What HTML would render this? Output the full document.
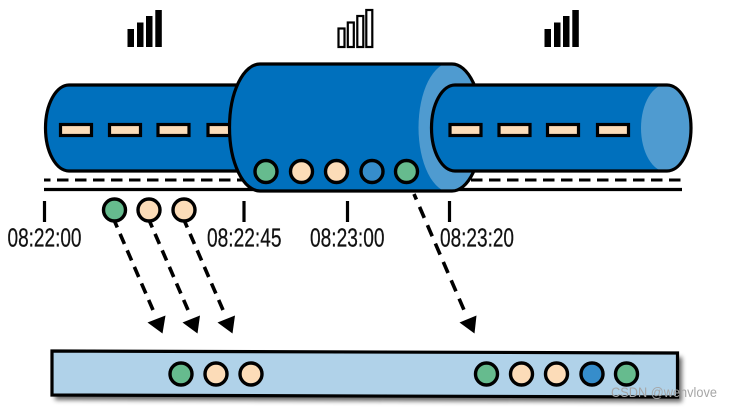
<!DOCTYPE html>
<html><head><meta charset="utf-8"><style>
html,body{margin:0;padding:0;background:#fff;width:732px;height:407px;overflow:hidden}
svg{display:block}
text{font-family:"Liberation Sans Narrow","Liberation Sans",sans-serif;fill:#111}
</style></head><body>
<svg width="732" height="407" viewBox="0 0 732 407" xmlns="http://www.w3.org/2000/svg">
<defs>
<filter id="sh" x="-5%" y="-30%" width="110%" height="170%"><feGaussianBlur stdDeviation="2.5"/></filter>
<clipPath id="midclip"><path d="M260 64H452A30 63.500 0 0 1 452 191H260A30.500 63.500 0 0 1 260 64Z"/></clipPath>
<clipPath id="rclip"><path d="M455 85H667A24 43 0 0 1 667 171H455A23.500 43 0 0 1 455 85Z"/></clipPath>
</defs>

<!-- signal bars -->
<g fill="#000">
<rect x="127.500" y="29" width="6.500" height="18"/><rect x="137" y="22.500" width="6.500" height="24.500"/><rect x="146" y="16" width="6.500" height="31"/><rect x="155.300" y="10" width="6.500" height="37"/>
<rect x="544.500" y="29" width="6.500" height="18"/><rect x="554" y="22.500" width="6.500" height="24.500"/><rect x="563" y="16" width="6.500" height="31"/><rect x="572.300" y="10" width="6.500" height="37"/>
</g>
<g fill="#fff" stroke="#000" stroke-width="2.200">
<rect x="338.500" y="28.500" width="6" height="18.500"/><rect x="347.800" y="22.500" width="6" height="24.500"/><rect x="357.300" y="16" width="6" height="31"/><rect x="366.300" y="10" width="6" height="37"/>
</g>

<!-- ground lines -->
<line x1="44" y1="180" x2="682" y2="180" stroke="#000" stroke-width="3" stroke-dasharray="11.500 6.500" stroke-dashoffset="5"/>
<line x1="44" y1="189.500" x2="682" y2="189.500" stroke="#000" stroke-width="3.200"/>

<!-- left pipe -->
<path d="M69 85H260V171H69A23.500 43 0 0 1 69 85Z" fill="#0070bd" stroke="#000" stroke-width="3.200"/>
<g fill="#fcdcb8" stroke="#000" stroke-width="3.200">
<rect x="60.500" y="124.500" width="31" height="11"/><rect x="109.500" y="124.500" width="31" height="11"/><rect x="158" y="124.500" width="31" height="11"/><rect x="208" y="124.500" width="31" height="11"/>
</g>

<!-- middle pipe -->
<path d="M260 64H452A30 63.500 0 0 1 452 191H260A30.500 63.500 0 0 1 260 64Z" fill="#0070bd"/>
<g clip-path="url(#midclip)"><ellipse cx="451" cy="127.500" rx="32.500" ry="65" fill="#4f9bd0"/></g>
<path d="M260 64H452A30 63.500 0 0 1 452 191H260A30.500 63.500 0 0 1 260 64Z" fill="none" stroke="#000" stroke-width="3.200"/>

<!-- right pipe -->
<path d="M455 85H667A24 43 0 0 1 667 171H455A23.500 43 0 0 1 455 85Z" fill="#0070bd"/>
<g clip-path="url(#rclip)"><ellipse cx="667" cy="128" rx="26" ry="44" fill="#4f9bd0"/></g>
<path d="M455 85H667A24 43 0 0 1 667 171H455A23.500 43 0 0 1 455 85Z" fill="none" stroke="#000" stroke-width="3.200"/>
<g fill="#fcdcb8" stroke="#000" stroke-width="3.200">
<rect x="450" y="124.500" width="31" height="11"/><rect x="499" y="124.500" width="31" height="11"/><rect x="547.500" y="124.500" width="31" height="11"/><rect x="597.500" y="124.500" width="31" height="11"/>
</g>

<!-- circles in middle pipe -->
<g stroke="#000" stroke-width="3.400">
<circle cx="266" cy="171.500" r="11" fill="#66bb8e"/><circle cx="301.500" cy="171.500" r="11" fill="#fcdcb8"/><circle cx="336.500" cy="171.500" r="11" fill="#fcdcb8"/><circle cx="372" cy="171.500" r="11" fill="#368dcb"/><circle cx="406.500" cy="171.500" r="11" fill="#66bb8e"/>
</g>

<!-- ticks -->
<g stroke="#000" stroke-width="3.200">
<line x1="44.500" y1="201" x2="44.500" y2="222"/><line x1="244" y1="201" x2="244" y2="222"/><line x1="347.500" y1="201" x2="347.500" y2="222"/><line x1="449.500" y1="201" x2="449.500" y2="222"/>
</g>

<!-- time labels -->
<g font-size="25.500" stroke="#111" stroke-width=".25">
<text x="7.500" y="246.500" textLength="74" lengthAdjust="spacingAndGlyphs">08:22:00</text>
<text x="207" y="246.500" textLength="74.500" lengthAdjust="spacingAndGlyphs">08:22:45</text>
<text x="310" y="246.500" textLength="74.500" lengthAdjust="spacingAndGlyphs">08:23:00</text>
<text x="440" y="246.500" textLength="74" lengthAdjust="spacingAndGlyphs">08:23:20</text>
</g>

<!-- dashed arrows -->
<g stroke="#000" stroke-width="3.600" fill="none">
<g stroke-dasharray="11 7" stroke-dashoffset="4">
<line x1="114.500" y1="221" x2="153" y2="310"/><line x1="149.500" y1="221" x2="188" y2="310"/><line x1="184.500" y1="221" x2="223" y2="310"/>
</g>
<line x1="414" y1="194" x2="464" y2="310" stroke-dasharray="12 8" stroke-dashoffset="6"/>
</g>
<g fill="#000">
<path d="M162.500 333.500L147.500 322.500L165.500 315.500Z"/><path d="M197.500 333.500L182.500 322.500L200 315.500Z"/><path d="M232.500 333.500L217.500 322.500L235 315.500Z"/><path d="M474.500 333.500L459.500 322.500L476.500 315.500Z"/>
</g>

<!-- loose circles -->
<g stroke="#000" stroke-width="3.400">
<circle cx="114.500" cy="210" r="11" fill="#66bb8e"/><circle cx="149" cy="210" r="11" fill="#fcdcb8"/><circle cx="184" cy="210" r="11" fill="#fcdcb8"/>
</g>

<!-- bottom bar -->
<path d="M55 354L682 357V402L55 400Z" fill="#000" opacity=".6" filter="url(#sh)"/>
<path d="M52 351L677.500 353V397L52 395Z" fill="#b0d2e9" stroke="#000" stroke-width="3.200"/>
<g stroke="#000" stroke-width="3.400">
<circle cx="181" cy="374" r="11" fill="#66bb8e"/><circle cx="216" cy="374" r="11" fill="#fcdcb8"/><circle cx="251" cy="374" r="11" fill="#fcdcb8"/>
<circle cx="486.500" cy="374" r="11" fill="#66bb8e"/><circle cx="521.500" cy="374" r="11" fill="#fcdcb8"/><circle cx="556.500" cy="374" r="11" fill="#fcdcb8"/><circle cx="592" cy="374" r="11" fill="#368dcb"/><circle cx="626.500" cy="374" r="11" fill="#66bb8e"/>
</g>

<!-- watermark -->
<text x="611" y="397" font-size="13.500" textLength="106" lengthAdjust="spacingAndGlyphs" style='font-family:"Liberation Sans",sans-serif;fill:#a6a6a6'>CSDN @wenvlove</text>
</svg>
</body></html>
